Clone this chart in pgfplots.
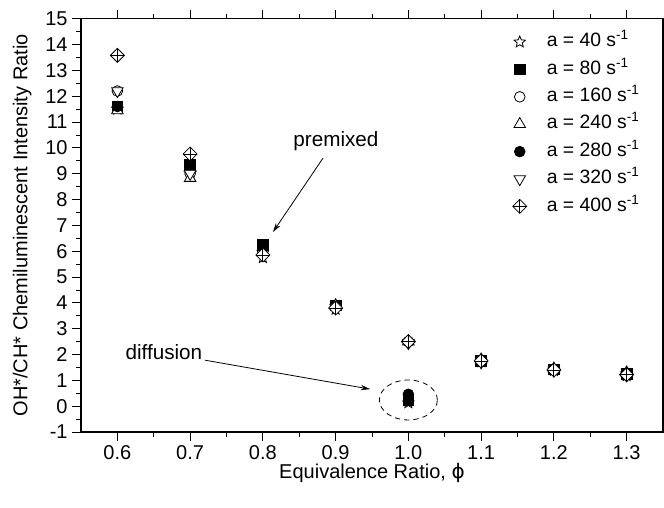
\documentclass[border=0pt]{standalone}
\usepackage{fontspec}
\setmainfont{Liberation Sans}
\newfontfamily\dejavu{DejaVu Sans}
\usepackage{pgfplots}
\pgfplotsset{compat=1.18}
\usetikzlibrary{arrows.meta}

\pgfdeclareplotmark{ostar}{%
  \pgfpathmoveto{\pgfpointpolar{90}{\pgfplotmarksize}}%
  \pgfpathlineto{\pgfpointpolar{126}{0.45\pgfplotmarksize}}%
  \pgfpathlineto{\pgfpointpolar{162}{\pgfplotmarksize}}%
  \pgfpathlineto{\pgfpointpolar{198}{0.45\pgfplotmarksize}}%
  \pgfpathlineto{\pgfpointpolar{234}{\pgfplotmarksize}}%
  \pgfpathlineto{\pgfpointpolar{270}{0.45\pgfplotmarksize}}%
  \pgfpathlineto{\pgfpointpolar{306}{\pgfplotmarksize}}%
  \pgfpathlineto{\pgfpointpolar{342}{0.45\pgfplotmarksize}}%
  \pgfpathlineto{\pgfpointpolar{18}{\pgfplotmarksize}}%
  \pgfpathlineto{\pgfpointpolar{54}{0.45\pgfplotmarksize}}%
  \pgfpathclose
  \pgfusepathqfillstroke}
\pgfdeclareplotmark{dplus}{%
  \pgfpathmoveto{\pgfqpoint{0pt}{\pgfplotmarksize}}%
  \pgfpathlineto{\pgfqpoint{\pgfplotmarksize}{0pt}}%
  \pgfpathlineto{\pgfqpoint{0pt}{-\pgfplotmarksize}}%
  \pgfpathlineto{\pgfqpoint{-\pgfplotmarksize}{0pt}}%
  \pgfpathclose
  \pgfusepathqfillstroke
  \pgfpathmoveto{\pgfqpoint{0pt}{\pgfplotmarksize}}%
  \pgfpathlineto{\pgfqpoint{0pt}{-\pgfplotmarksize}}%
  \pgfpathmoveto{\pgfqpoint{-\pgfplotmarksize}{0pt}}%
  \pgfpathlineto{\pgfqpoint{\pgfplotmarksize}{0pt}}%
  \pgfusepathqstroke}

\begin{document}
\begin{tikzpicture}
\begin{axis}[
  scale only axis, width=436.5pt, height=310pt,
  xmin=0.55, xmax=1.35, ymin=-1, ymax=15,
  xtick={0.6,0.7,0.8,0.9,1.0,1.1,1.2,1.3},
  ytick={-1,0,1,2,3,4,5,6,7,8,9,10,11,12,13,14,15},
  minor x tick num=1, minor y tick num=1,
  tick align=outside, tick pos=both,
  major tick length=6.5pt, minor tick length=3.75pt,
  axis line style={line width=0.8pt},
  every tick/.style={line width=0.6pt, black},
  /pgf/number format/assume math mode=true,
  x tick label style={/pgf/number format/.cd, fixed, fixed zerofill, precision=1},
  tick label style={font=\fontsize{15}{17}\selectfont},
  xlabel style={font=\fontsize{15}{17}\selectfont},
  ylabel style={font=\fontsize{15}{17}\selectfont},
  xlabel={Equivalence Ratio, {\dejavu ϕ}},
  ylabel={OH*/CH* Chemiluminescent Intensity Ratio},
  xlabel style={at={(axis description cs:0.5,-0.098)}, anchor=center},
  ylabel style={at={(axis description cs:-0.101,0.5)}, anchor=center},
  legend cell align=left,
  legend image code/.code={\path (0pt,0pt) (36pt,0pt); \draw[#1] plot coordinates {(18pt,0pt)};},
  legend style={draw=none, fill=none, at={(axis description cs:0.7046,0.978)}, anchor=north west,
    font=\fontsize{14.5}{17}\selectfont, row sep=3.55pt,
    nodes={text height=10pt, text depth=3pt}},
  every axis plot/.append style={only marks, black, line width=0.6pt},
]
\addplot[mark=ostar, mark size=4.5pt, mark options={fill=white}] coordinates {
(0.6,11.5) (0.7,9.0) (0.8,5.75) (0.9,3.75) (1.0,0.13) (1.1,1.72) (1.2,1.38) (1.3,1.18)};
\addlegendentry{a = 40 s\textsuperscript{-1}}
\addplot[mark=square*, mark size=4pt, mark options={fill=black}] coordinates {
(0.6,11.6) (0.7,9.33) (0.8,6.23) (0.9,3.9) (1.0,0.25) (1.1,1.75) (1.2,1.42) (1.3,1.25)};
\addlegendentry{a = 80 s\textsuperscript{-1}}
\addplot[mark=*, mark size=4pt, mark options={fill=white}] coordinates {
(0.6,12.2) (0.7,9.0) (0.8,6.0) (0.9,3.85) (1.0,2.5) (1.1,1.78) (1.2,1.42) (1.3,1.25)};
\addlegendentry{a = 160 s\textsuperscript{-1}}
\addplot[mark=triangle*, mark size=5pt, mark options={fill=white}] coordinates {
(0.6,11.45) (0.7,8.83) (0.8,5.95) (0.9,3.9) (1.0,2.5) (1.1,1.8) (1.2,1.45) (1.3,1.3)};
\addlegendentry{a = 240 s\textsuperscript{-1}}
\addplot[mark=*, mark size=4pt, mark options={fill=black}] coordinates {
(0.6,11.6) (0.7,9.2) (0.8,6.0) (0.9,3.85) (1.0,0.46) (1.1,1.75) (1.2,1.4) (1.3,1.25)};
\addlegendentry{a = 280 s\textsuperscript{-1}}
\addplot[mark=triangle*, mark size=5pt, mark options={fill=white, rotate=180}] coordinates {
(0.6,12.2) (0.7,9.0) (0.8,5.9) (0.9,3.8) (1.0,2.45) (1.1,1.7) (1.2,1.38) (1.3,1.2)};
\addlegendentry{a = 320 s\textsuperscript{-1}}
\addplot[mark=dplus, mark size=5.25pt, mark options={fill=white}] coordinates {
(0.6,13.58) (0.7,9.76) (0.8,5.85) (0.9,3.8) (1.0,2.5) (1.1,1.75) (1.2,1.4) (1.3,1.22)};
\addlegendentry{a = 400 s\textsuperscript{-1}}

\node[font=\fontsize{15.5}{18}\selectfont] at (axis cs:0.9005,10.26) {premixed};
\draw[-{Stealth[length=7pt,width=4pt]}, line width=0.6pt] (axis cs:0.8826,9.60) -- (axis cs:0.8139,6.74);
\node[font=\fontsize{15.5}{18}\selectfont] at (axis cs:0.664,2.09) {diffusion};
\draw[-{Stealth[length=7pt,width=4pt]}, line width=0.6pt] (axis cs:0.7204,1.78) -- (axis cs:0.9473,0.66);
\draw[dashed, line width=0.6pt, dash pattern=on 4pt off 3pt] (axis cs:1.0,0.24) ellipse [x radius=21.75pt, y radius=15pt];
\end{axis}
\pgfresetboundingbox
\path[use as bounding box] (-60.75pt,-56.25pt) rectangle (437.25pt,324pt);
\end{tikzpicture}
\end{document}
